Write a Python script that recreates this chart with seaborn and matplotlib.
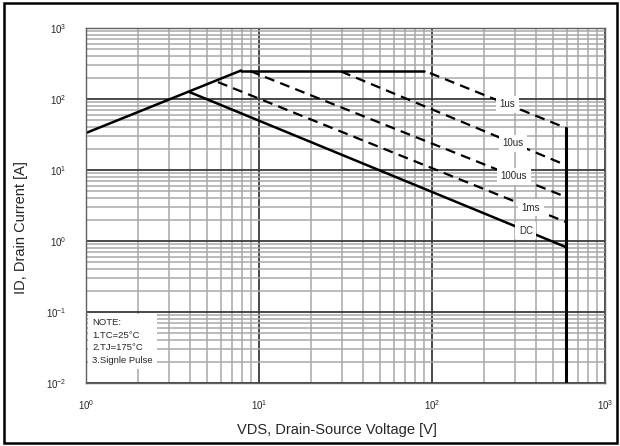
import numpy as np
import pandas as pd
import matplotlib
matplotlib.use("Agg")
import matplotlib.pyplot as plt
from matplotlib.patches import Rectangle
import seaborn as sns

# ---- SOA curve data ----
rds_v = [1.0, 7.87]
rds_i = [33.2, 252.0]

flat_v = [7.87, 89.9]
flat_i = [252.0, 252.0]

us1_v = [97.3, 595.0]
us1_i = [232.0, 39.1]

us10_v = [29.8, 595.0]
us10_i = [244.0, 11.7]

us100_v = [8.87, 595.0]
us100_i = [248.0, 4.17]

ms1_v = [5.79, 595.0]
ms1_i = [173.0, 1.85]

dc_v = [3.94, 595.0]
dc_i = [126.0, 0.82]

vlim_v = [595.0, 595.0]
vlim_i = [39.1, 0.01]

pulse_names = ["1us", "10us", "100us", "1ms", "DC"]
label_v = [272.0, 294.0, 298.0, 373.0, 349.0]

note_text = "NOTE:\n1.TC=25°C\n2.TJ=175°C\n3.Signle Pulse"

sns.set_theme(style="white")
plt.rcParams["font.family"] = ["Liberation Sans", "DejaVu Sans"]

fig = plt.figure(figsize=(6.2, 4.46), dpi=100)
ax = fig.add_axes([0.1387, 0.1413, 0.8371, 0.7959])

# solid limit lines
for xs, ys in [(rds_v, rds_i), (flat_v, flat_i), (dc_v, dc_i)]:
    sns.lineplot(x=xs, y=ys, ax=ax, color="black", lw=1.8, sort=False,
                 estimator=None)

# dashed pulse lines
pulse_curves = [(us1_v, us1_i), (us10_v, us10_i), (us100_v, us100_i),
                (ms1_v, ms1_i)]
for xs, ys in pulse_curves:
    sns.lineplot(x=xs, y=ys, ax=ax, color="black", lw=1.6, sort=False,
                 estimator=None, linestyle=(0, (4.5, 2.8)))

# VDS limit
sns.lineplot(x=vlim_v, y=vlim_i, ax=ax, color="black", lw=2.2, sort=False,
             estimator=None)

ax.set_xscale("log")
ax.set_yscale("log")
ax.set_xlim(1, 1000)
ax.set_ylim(0.01, 1000)

# datasheet style grid
ax.grid(which="major", color="#3a3a3a", lw=1.3)
ax.grid(which="minor", color="#a8a8a8", lw=1.1)
ax.set_axisbelow(True)
for s in ax.spines.values():
    s.set_color("#606060")
    s.set_linewidth(1.0)

ax.tick_params(which="both", length=0)
ax.tick_params(axis="y", pad=14, labelsize=7)
ax.tick_params(axis="x", pad=11, labelsize=7)

# labels on each curve
all_curves = pulse_curves + [(dc_v, dc_i)]
for name, lv, (xs, ys) in zip(pulse_names, label_v, all_curves):
    li = 10 ** np.interp(np.log10(lv), np.log10(xs), np.log10(ys))
    ax.text(lv, li, name, fontsize=7, ha="center", va="center",
            bbox=dict(facecolor="white", edgecolor="none", pad=2.5))

ax.text(0.012, 0.183, note_text, transform=ax.transAxes, fontsize=6.8,
        va="top", ha="left", linespacing=1.5,
        bbox=dict(facecolor="white", edgecolor="none", pad=3))

ax.set_xlabel("VDS, Drain-Source Voltage [V]", fontsize=10.5)
ax.set_ylabel("ID, Drain Current [A]", fontsize=10.5)
ax.xaxis.set_label_coords(0.484, -0.113)
ax.yaxis.set_label_coords(-0.112, 0.437)

# outer frame of the figure
fig.patches.append(Rectangle((0.0065, 0.007), 0.9885, 0.986,
                             transform=fig.transFigure, fill=False,
                             edgecolor="black", lw=1.8))

fig.savefig("out.png", dpi=100)
